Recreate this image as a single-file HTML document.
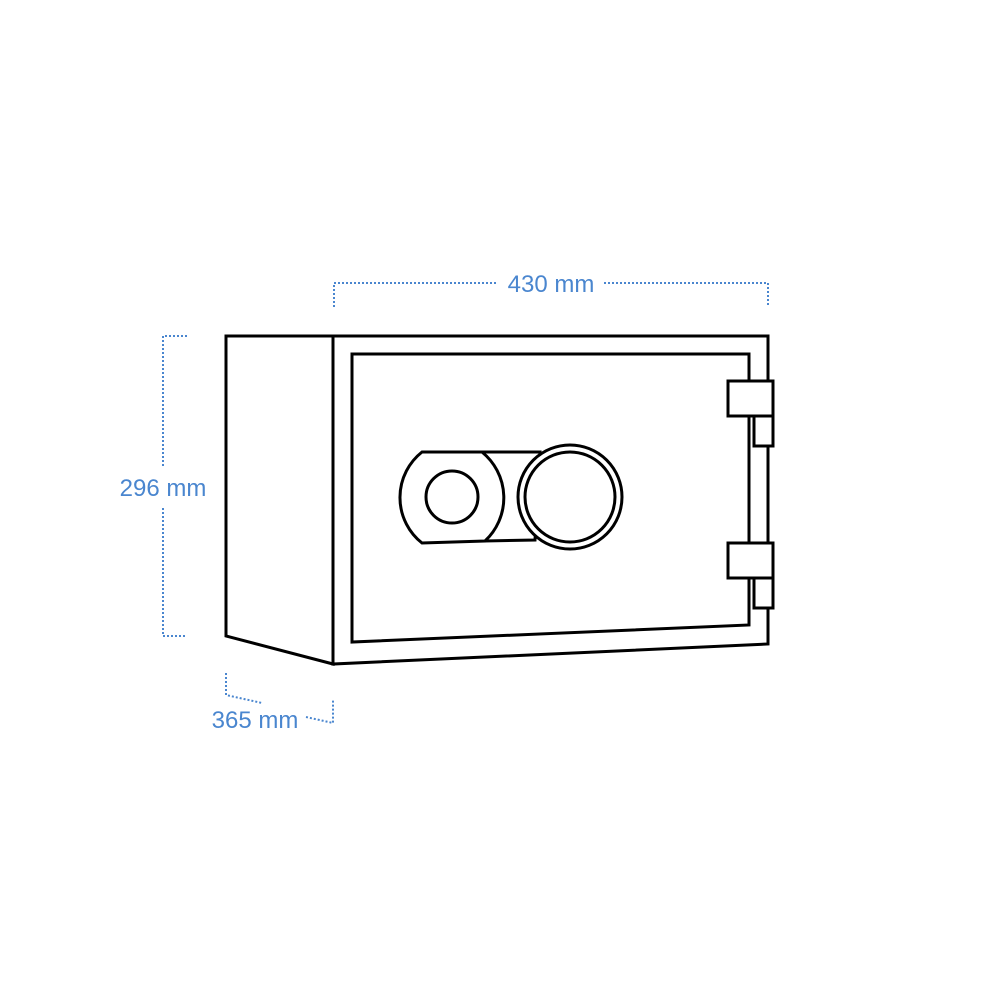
<!DOCTYPE html>
<html><head><meta charset="utf-8"><style>html,body{margin:0;padding:0;background:#fff}svg{display:block}</style></head>
<body>
<svg width="1000" height="1000" viewBox="0 0 1000 1000" xmlns="http://www.w3.org/2000/svg">
<g fill="none" stroke="#4a86cf" stroke-width="2" stroke-dasharray="2 2">
<path d="M334 307 V283 H496"/>
<path d="M604 283 H768 V307"/>
<path d="M187 336 H163 V468"/>
<path d="M163 508 V636 H187"/>
<path d="M226 673 V695 L262 703"/>
<path d="M306 717 L333 723 V700"/>
</g>
<g font-family="Liberation Sans, sans-serif" font-size="24" fill="#4a86cf">
<text x="551" y="292" text-anchor="middle">430 mm</text>
<text x="163" y="496" text-anchor="middle">296 mm</text>
<text x="255" y="728" text-anchor="middle">365 mm</text>
</g>
<g fill="#fff" stroke="#000" stroke-width="3" stroke-linejoin="miter">
<path d="M226 336 H333 V664 L226 636 Z"/>
<path d="M333 336 H768 V644 L333 664 Z"/>
<path d="M352 354 H749 V625 L352 642 Z"/>
<path d="M480 452 H540 L535 540 L485 541 Z"/>
<path d="M422 452 H482 A59 59 0 0 1 485 541 L422 543 A58 58 0 0 1 422 452 Z"/>
<circle cx="452" cy="497" r="26"/>
<circle cx="570" cy="497" r="52"/>
<circle cx="570" cy="497" r="45"/>
<rect x="754" y="416" width="19" height="30"/>
<rect x="728" y="381" width="45" height="35"/>
<rect x="754" y="578" width="19" height="30"/>
<rect x="728" y="543" width="45" height="35"/>
</g>
</svg>
</body></html>
